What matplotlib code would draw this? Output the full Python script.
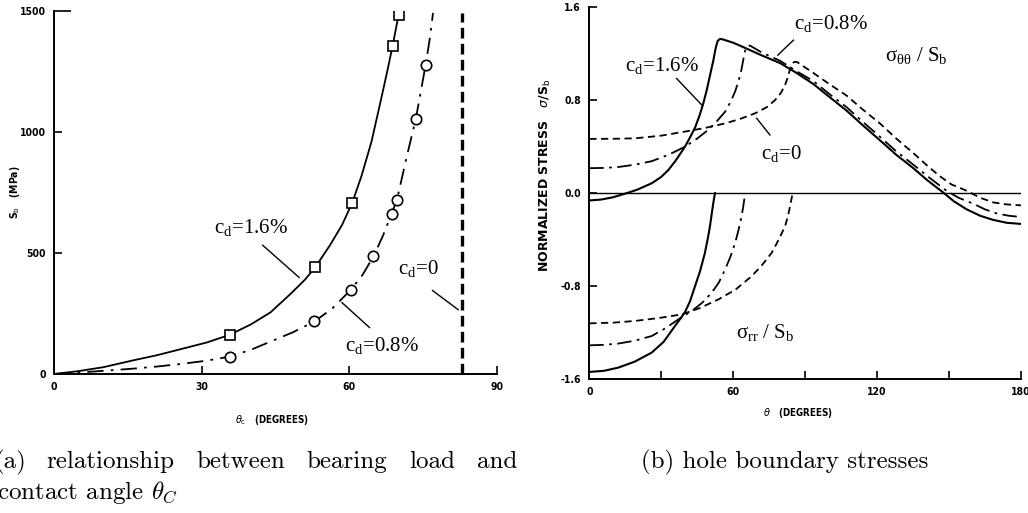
import matplotlib
matplotlib.use("Agg")
import matplotlib.pyplot as plt

plt.rcParams["mathtext.fontset"] = "custom"
plt.rcParams["mathtext.rm"] = "Liberation Serif"
plt.rcParams["mathtext.it"] = "Liberation Serif:italic"
plt.rcParams["mathtext.bf"] = "Liberation Serif:bold"

W, H = 1028, 513

# ---------------- data: panel (a) ----------------
sq_deg = [35.7, 53.1, 60.6, 68.8, 70.0]
sq_val = [162, 442, 708, 1357, 1484]
ci_deg = [35.7, 52.9, 60.3, 64.9, 68.6, 69.7, 73.5, 75.5]
ci_val = [72, 217, 348, 486, 663, 721, 1054, 1277]

c16_deg = [0, 5, 10, 16, 21, 26, 31, 35.7, 40, 44, 48, 51, 53.1, 56, 58.5, 60.6, 62.5, 64.5,
           66.5, 67.8, 68.8, 69.5, 70.0, 70.3]
c16_val = [0, 12, 28, 56, 78, 104, 130, 162, 205, 255, 330, 390, 442, 530, 615, 708, 820, 960,
           1140, 1260, 1357, 1430, 1484, 1500]
c08_deg = [0, 5, 10, 16, 21, 26, 31, 35.7, 40, 44.1, 48.5, 52.9, 56.5, 60.3, 62.7, 64.9, 66.8,
           68.6, 69.7, 71.5, 73.5, 75.5, 76.3, 77.0]
c08_val = [0, 6, 13, 22, 31, 42, 55, 72, 100, 135, 172, 217, 270, 348, 410, 486, 570, 663, 721,
           884, 1054, 1277, 1380, 1492]
c0_deg = 82.9
c0_top = 1490

a_xticks = [0, 30, 60, 90]
a_yticks = [0, 500, 1000, 1500]

# ---------------- data: panel (b) ----------------
tt16_deg = [0, 5, 10, 15.6, 20, 26, 30, 33, 36, 39.9, 42, 44.1, 46, 47.5, 49, 50.5, 51.7, 52.7,
            53.5, 54.5, 55.5, 60, 65, 72, 79.5, 86, 93.4, 100, 107.3, 114, 121.2, 128, 135.1, 141,
            147.6, 152, 157.4, 163, 168.4, 174, 180]
tt16_val = [-0.063, -0.055, -0.035, 0, 0.03, 0.085, 0.14, 0.20, 0.28, 0.40, 0.48, 0.565, 0.67,
            0.77, 0.89, 1.03, 1.14, 1.25, 1.31, 1.328, 1.325, 1.295, 1.25, 1.185, 1.12, 1.04, 0.94,
            0.83, 0.71, 0.585, 0.455, 0.33, 0.215, 0.11, 0.005, -0.07, -0.14, -0.195, -0.23, -0.255,
            -0.265]
tt08_deg = [0, 6, 12.1, 19, 26, 33, 39.9, 45, 49.6, 53, 56.6, 59, 60.8, 62.3, 63.5, 64.4, 65.0,
            66.0, 67, 72, 79.5, 86, 93.4, 100, 107.3, 114, 121.2, 128, 135.1, 142, 149, 154, 160,
            165, 170, 175, 180]
tt08_val = [0.215, 0.217, 0.225, 0.245, 0.275, 0.33, 0.40, 0.47, 0.545, 0.615, 0.70, 0.79, 0.875,
            0.97, 1.07, 1.17, 1.23, 1.268, 1.27, 1.21, 1.14, 1.055, 0.965, 0.855, 0.74, 0.615,
            0.485, 0.36, 0.245, 0.13, 0.02, -0.04, -0.09, -0.14, -0.175, -0.195, -0.205]
tt00_deg = [0, 10, 19.1, 30, 39.9, 48, 56.6, 63, 69.1, 74, 77.4, 79.8, 81.6, 82.8, 83.7, 84.5,
            85.5, 86.5, 93.4, 100, 107.3, 114, 121.2, 128, 135.1, 141, 146.2, 151, 157.4, 163,
            168.5, 174, 180]
tt00_val = [0.467, 0.468, 0.472, 0.495, 0.53, 0.56, 0.60, 0.64, 0.687, 0.74, 0.80, 0.86, 0.93,
            1.0, 1.07, 1.115, 1.13, 1.13, 1.035, 0.94, 0.84, 0.72, 0.60, 0.47, 0.345, 0.235,
            0.145, 0.075, 0.02, -0.04, -0.08, -0.097, -0.105]

rr16_deg = [0, 6, 12.1, 19, 26, 31, 35.7, 38, 40, 42, 44.1, 46.2, 48.2, 49.5, 50.3, 51.1, 51.7,
            52.4]
rr16_val = [-1.539, -1.53, -1.502, -1.45, -1.373, -1.28, -1.144, -1.08, -1.02, -0.93, -0.80,
            -0.67, -0.515, -0.38, -0.286, -0.17, -0.086, 0]
rr08_deg = [0, 6, 12.1, 19, 26, 32, 37.1, 42.7, 47, 51, 54, 56.6, 58.8, 60.8, 62.3, 63.5, 64.3,
            64.9, 65.1]
rr08_val = [-1.31, -1.306, -1.295, -1.27, -1.23, -1.16, -1.087, -1.015, -0.945, -0.858, -0.77,
            -0.658, -0.55, -0.43, -0.31, -0.20, -0.10, -0.014, 0]
rr00_deg = [0, 10, 19.1, 29, 38.5, 46, 53.8, 61, 67.7, 72, 76, 79, 81.6, 82.8, 83.7, 84.3, 84.8]
rr00_val = [-1.121, -1.115, -1.10, -1.075, -1.044, -0.99, -0.915, -0.83, -0.715, -0.62, -0.515,
            -0.40, -0.286, -0.20, -0.114, -0.05, 0]

b_xticks = [0, 30, 60, 90, 120, 150, 180]
b_xticklabels = ["0", "", "60", "", "120", "", "180"]
b_yticks = [-1.6, -0.8, 0.0, 0.8, 1.6]
b_yticklabels = ["-1.6", "-0.8", "0.0", "0.8", "1.6"]

# ---------------- styling ----------------
TICKFONT = dict(family="DejaVu Sans", weight="bold", stretch="condensed", size=7.5)
ANN = dict(family="Liberation Serif", size=15, ha="center", va="center")

fig = plt.figure(figsize=(W / 100, H / 100), dpi=100)
fig.patch.set_facecolor("white")


def px_axes(x0, y0, x1, y1):
    return fig.add_axes([x0 / W, 1 - y1 / H, (x1 - x0) / W, (y1 - y0) / H])


def style_axes(ax):
    for s in ("top", "right"):
        ax.spines[s].set_visible(False)
    for s in ("left", "bottom"):
        ax.spines[s].set_linewidth(1.4)
    ax.tick_params(direction="in", length=6, width=1.2, pad=6)
    for lab in ax.get_xticklabels() + ax.get_yticklabels():
        lab.set_fontfamily(TICKFONT["family"])
        lab.set_fontweight(TICKFONT["weight"])
        lab.set_fontstretch(TICKFONT["stretch"])
        lab.set_fontsize(TICKFONT["size"])


# ---------------- panel (a) ----------------
ax1 = px_axes(54, 11, 497, 374)
ax1.set_xlim(0, 90)
ax1.set_ylim(0, 1500)
ax1.set_xticks(a_xticks)
ax1.set_yticks(a_yticks)
ax1.set_xticklabels([str(v) for v in a_xticks])
ax1.set_yticklabels([str(v) for v in a_yticks])
style_axes(ax1)
ax1.yaxis.get_major_ticks()[-1].tick1line.set_markersize(12)

ax1.plot(c16_deg, c16_val, color="black", lw=1.3)
ax1.plot(c08_deg, c08_val, color="black", lw=1.3, dashes=(9, 4, 1.5, 4))
ax1.plot([c0_deg, c0_deg], [0, c0_top], color="black", lw=2.4, dashes=(3.2, 1.6))
ax1.plot(sq_deg, sq_val, ls="none", marker="s", ms=6.5, mfc="white", mec="black", mew=1.2)
ax1.plot(ci_deg, ci_val, ls="none", marker="o", ms=7.5, mfc="white", mec="black", mew=1.2)

ax1.text(40.1, 606, r"c$_\mathrm{d}$=1.6%", **ANN)
ax1.plot([42.4, 49.8], [532, 399], color="black", lw=1.0)
ax1.text(66.6, 117, r"c$_\mathrm{d}$=0.8%", **ANN)
ax1.plot([58.5, 64.1], [295, 192], color="black", lw=1.0)
ax1.text(74.0, 436, r"c$_\mathrm{d}$=0", **ANN)
ax1.plot([76.9, 82.1], [345, 266], color="black", lw=1.0)

fig.text(15 / W, 1 - 192 / H, r"S$_\mathrm{b}$   (MPa)", rotation=90, ha="center", va="center",
         family="DejaVu Sans", weight="bold", stretch="condensed", size=7.5,
         math_fontfamily="dejavusans")
fig.text(272 / W, 1 - 420 / H, r"$\theta_\mathrm{c}$   (DEGREES)", ha="center", va="center",
         family="DejaVu Sans", weight="bold", stretch="condensed", size=7,
         math_fontfamily="dejavusans")

# ---------------- panel (b) ----------------
ax2 = px_axes(589.3, 7.3, 1021, 379)
ax2.set_xlim(0, 180)
ax2.set_ylim(-1.6, 1.6)
ax2.set_xticks(b_xticks)
ax2.set_xticklabels(b_xticklabels)
ax2.set_yticks(b_yticks)
ax2.set_yticklabels(b_yticklabels)
style_axes(ax2)

ax2.axhline(0, color="black", lw=1.0)
dashdot = (8, 3, 1.5, 3)
dashed = (4, 2.5)
ax2.plot(tt16_deg, tt16_val, color="black", lw=1.5)
ax2.plot(tt08_deg, tt08_val, color="black", lw=1.3, dashes=dashdot)
ax2.plot(tt00_deg, tt00_val, color="black", lw=1.3, dashes=dashed)
ax2.plot(rr16_deg, rr16_val, color="black", lw=1.5)
ax2.plot(rr08_deg, rr08_val, color="black", lw=1.3, dashes=dashdot)
ax2.plot(rr00_deg, rr00_val, color="black", lw=1.3, dashes=dashed)

ax2.text(100.9, 1.457, r"c$_\mathrm{d}$=0.8%", **ANN)
ax2.plot([85.1, 78.6], [1.317, 1.188], color="black", lw=1.0)
ax2.text(30.2, 1.102, r"c$_\mathrm{d}$=1.6%", **ANN)
ax2.plot([36.4, 46.9], [0.987, 0.759], color="black", lw=1.0)
ax2.text(79.9, 0.343, r"c$_\mathrm{d}$=0", **ANN)
ax2.plot([69.8, 75.3], [0.644, 0.501], color="black", lw=1.0)
ax2.text(136.4, 1.182, r"$\mathrm{\sigma_{\theta\theta}}$ / S$_\mathrm{b}$", **ANN)
ax2.text(73.5, -1.202, r"$\mathrm{\sigma_{rr}}$ / S$_\mathrm{b}$", **ANN)

fig.text(545 / W, 1 - 175 / H, r"NORMALIZED STRESS   $\sigma$/S$_\mathrm{b}$", rotation=90,
         ha="center", va="center", family="DejaVu Sans", weight="bold", size=9,
         math_fontfamily="dejavusans")
fig.text(798 / W, 1 - 413 / H, r"$\theta$   (DEGREES)", ha="center", va="center",
         family="DejaVu Sans", weight="bold", stretch="condensed", size=7,
         math_fontfamily="dejavusans")

# ---------------- captions ----------------
CAP = dict(family="cmr10", size=18, math_fontfamily="cm", va="baseline", ha="left")
words_a = [("(a)", -5), ("relationship", 46), ("between", 196), ("bearing", 306),
           ("load", 409), ("and", 477)]
for w, x in words_a:
    fig.text(x / W, 1 - 468 / H, w, **CAP)
fig.text(-3 / W, 1 - 499 / H, r"contact angle $\theta_C$", **CAP)
fig.text(641 / W, 1 - 468 / H, "(b) hole boundary stresses", **CAP)

fig.savefig("out.png", dpi=100, facecolor="white")
